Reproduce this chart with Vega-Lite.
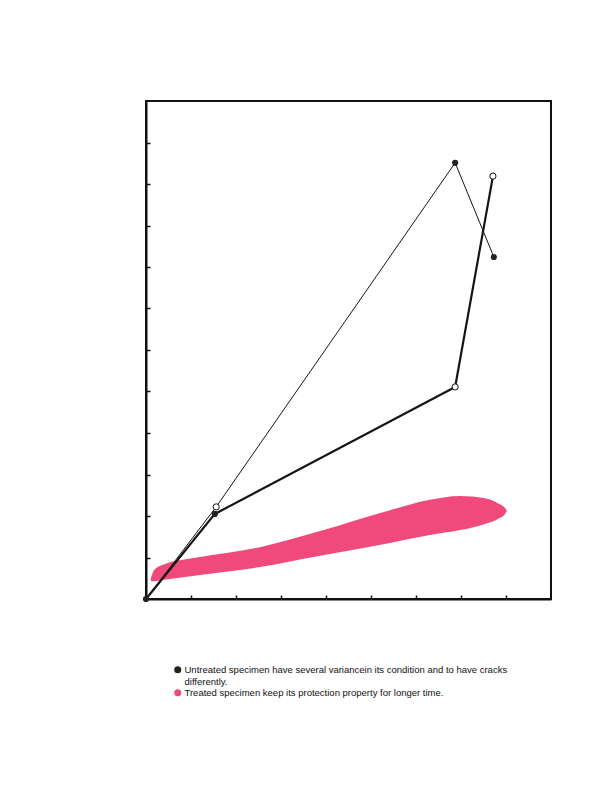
{
  "$schema": "https://vega.github.io/schema/vega-lite/v6.json",
  "width": 405,
  "height": 498,
  "autosize": "none",
  "padding": {"left": 146, "top": 101, "right": 63, "bottom": 211},
  "background": "white",
  "config": {
    "view": {"stroke": "#111", "strokeWidth": 2},
    "font": "Liberation Sans"
  },
  "datasets": {
    "blob": [
      {"t": 0.11, "hi": 0.51, "lo": 0.43},
      {"t": 0.18, "hi": 0.70, "lo": 0.43},
      {"t": 0.36, "hi": 0.82, "lo": 0.46},
      {"t": 1.2, "hi": 1.01, "lo": 0.58},
      {"t": 2.53, "hi": 1.25, "lo": 0.77},
      {"t": 3.87, "hi": 1.64, "lo": 1.04},
      {"t": 5.42, "hi": 2.14, "lo": 1.35},
      {"t": 6.31, "hi": 2.39, "lo": 1.54},
      {"t": 6.98, "hi": 2.48, "lo": 1.66},
      {"t": 7.53, "hi": 2.43, "lo": 1.81},
      {"t": 7.82, "hi": 2.31, "lo": 1.93},
      {"t": 7.98, "hi": 2.19, "lo": 2.05},
      {"t": 8.02, "hi": 2.12, "lo": 2.12}
    ],
    "lines": [
      {"series": "A", "order": 0, "t": 0, "v": 0},
      {"series": "A", "order": 1, "t": 1.56, "v": 2.22},
      {"series": "A", "order": 2, "t": 6.87, "v": 10.51},
      {"series": "A", "order": 3, "t": 7.73, "v": 8.24},
      {"series": "B", "order": 0, "t": 0, "v": 0},
      {"series": "B", "order": 1, "t": 1.53, "v": 2.05},
      {"series": "B", "order": 2, "t": 6.87, "v": 5.11},
      {"series": "B", "order": 3, "t": 7.71, "v": 10.19}
    ],
    "points": [
      {"marker": "solid", "t": 0, "v": 0},
      {"marker": "solid", "t": 1.53, "v": 2.05},
      {"marker": "solid", "t": 6.87, "v": 10.51},
      {"marker": "solid", "t": 7.73, "v": 8.24},
      {"marker": "hollow", "t": 1.56, "v": 2.22},
      {"marker": "hollow", "t": 6.87, "v": 5.11},
      {"marker": "hollow", "t": 7.71, "v": 10.19}
    ]
  },
  "encoding": {
    "x": {
      "field": "t",
      "type": "quantitative",
      "scale": {"domain": [0, 9], "nice": false},
      "axis": {
        "title": null,
        "labels": false,
        "grid": false,
        "values": [1, 2, 3, 4, 5, 6, 7, 8],
        "tickSize": -4,
        "tickColor": "#111",
        "tickWidth": 1.5,
        "domainColor": "#111",
        "domainWidth": 2
      }
    },
    "y": {
      "field": "v",
      "type": "quantitative",
      "scale": {"domain": [0, 12], "nice": false},
      "axis": {
        "title": null,
        "labels": false,
        "grid": false,
        "values": [1, 2, 3, 4, 5, 6, 7, 8, 9, 10, 11],
        "tickSize": -4,
        "tickColor": "#111",
        "tickWidth": 1.5,
        "domainColor": "#111",
        "domainWidth": 2
      }
    }
  },
  "layer": [
    {
      "data": {"name": "blob"},
      "mark": {"type": "area", "interpolate": "monotone", "orient": "vertical"},
      "encoding": {
        "y": {"field": "hi", "type": "quantitative"},
        "y2": {"field": "lo"},
        "fill": {
          "datum": "Treated specimen keep its protection property for longer time.",
          "type": "nominal",
          "scale": {
            "domain": [
              "Untreated specimen have several variancein its condition and to have cracks differently.",
              "Treated specimen keep its protection property for longer time."
            ],
            "range": ["#222222", "#f04a7c"]
          },
          "legend": {
            "title": null,
            "orient": "none",
            "legendX": 27,
            "legendY": 564,
            "padding": 0,
            "symbolType": "circle",
            "symbolSize": 50,
            "symbolStrokeWidth": 0,
            "labelFont": "Liberation Sans",
            "labelFontSize": 9.5,
            "labelColor": "#111",
            "labelLimit": 450,
            "labelOffset": 2,
            "rowPadding": 0,
            "labelExpr": "indexof(datum.label, ' differently.') > 0 ? [slice(datum.label, 0, indexof(datum.label, ' differently.')), 'differently.'] : datum.label",
            "labelBaseline": "top",
            "encode": {"labels": {"update": {"lineHeight": {"value": 12.5}, "dy": {"value": -5}}}}
          }
        }
      }
    },
    {
      "data": {"name": "lines"},
      "mark": {"type": "line", "color": "#151515"},
      "encoding": {
        "detail": {"field": "series", "type": "nominal"},
        "order": {"field": "order", "type": "quantitative"},
        "strokeWidth": {
          "field": "series",
          "type": "nominal",
          "scale": {"domain": ["A", "B"], "range": [1, 2.2]},
          "legend": null
        }
      }
    },
    {
      "data": {"name": "points"},
      "transform": [{"filter": "datum.marker == 'solid'"}],
      "mark": {"type": "point", "filled": true, "size": 38, "opacity": 1},
      "encoding": {
        "fill": {
          "datum": "Untreated specimen have several variancein its condition and to have cracks differently.",
          "type": "nominal"
        }
      }
    },
    {
      "data": {"name": "points"},
      "transform": [{"filter": "datum.marker == 'hollow'"}],
      "mark": {"type": "point", "filled": false, "fill": "white", "fillOpacity": 1, "stroke": "#151515", "strokeWidth": 1, "size": 38, "opacity": 1}
    }
  ]
}
